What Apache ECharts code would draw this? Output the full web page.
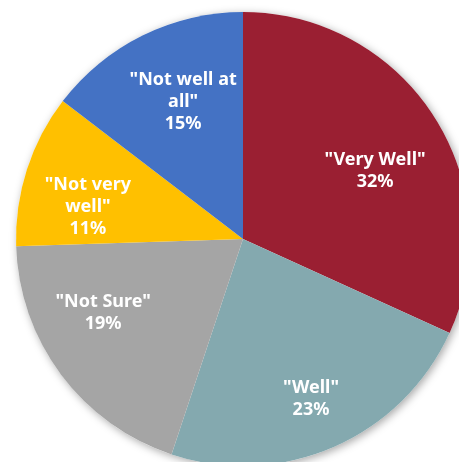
<!DOCTYPE html>
<html>
<head>
<meta charset="utf-8">
<script src="https://cdn.jsdelivr.net/npm/echarts@6/dist/echarts.min.js"></script>
<style>
    html, body { margin: 0; padding: 0; background: #fff; }
    #main { width: 459px; height: 462px; }
</style>
</head>
<body>
<div id="main"></div>
<script>
// data
var categories = ['"Very Well"', '"Well"', '"Not Sure"', '"Not very well"', '"Not well at all"'];
var labelText = ['"Very Well"', '"Well"', '"Not Sure"', '"Not very\nwell"', '"Not well at\nall"'];
var values = [31.8, 23.3, 19.4, 10.9, 14.6];
var colors = ['#9A1F32', '#84A9AF', '#A5A5A5', '#FFC000', '#4472C4'];
// Excel "best fit" label spots: share of the radius and turn (deg) from the slice middle
var labelRad = [0.658, 0.758, 0.692, 0.70, 0.667];
var labelTurn = [4.9, 0.3, 9.6, -5.3, 3.0];

var cx = 243, cy = 239, R = 227;

var total = values.reduce(function (a, b) { return a + b; }, 0);

var myChart = echarts.init(document.getElementById('main'));

var pieData = categories.map(function (c, i) {
    return { name: c, value: values[i], itemStyle: { color: colors[i] } };
});

function midAngle(i) {
    var before = 0;
    for (var k = 0; k < i; k++) before += values[k];
    return (before + values[i] / 2) / total * 360;
}

var option = {
    animation: false,
    series: [
        {
            // plain disc behind, only for the soft drop shadow
            type: 'pie',
            silent: true,
            center: [cx, cy],
            radius: R,
            label: { show: false },
            labelLine: { show: false },
            itemStyle: {
                color: '#ffffff',
                shadowBlur: 8,
                shadowColor: 'rgba(0,0,0,0.35)',
                shadowOffsetX: 2,
                shadowOffsetY: 2
            },
            data: [{ value: 1 }]
        },
        {
            type: 'pie',
            center: [cx, cy],
            radius: R,
            startAngle: 90,
            clockwise: true,
            itemStyle: { borderWidth: 0 },
            label: {
                show: true,
                position: 'inside',
                color: '#ffffff',
                fontFamily: 'Noto Sans',
                fontWeight: 'bold',
                fontSize: 18,
                lineHeight: 22,
                align: 'center',
                verticalAlign: 'middle',
                formatter: function (p) {
                    return labelText[p.dataIndex] + '\n' + Math.round(p.value) + '%';
                }
            },
            labelLine: { show: false },
            labelLayout: function (params) {
                var i = params.dataIndex;
                var a = (midAngle(i) + labelTurn[i]) * Math.PI / 180;
                var d = labelRad[i] * R;
                return {
                    x: cx + d * Math.sin(a),
                    y: cy - d * Math.cos(a) + 2
                };
            },
            emphasis: { disabled: true },
            data: pieData
        }
    ]
};
myChart.setOption(option);
</script>
</body>
</html>
